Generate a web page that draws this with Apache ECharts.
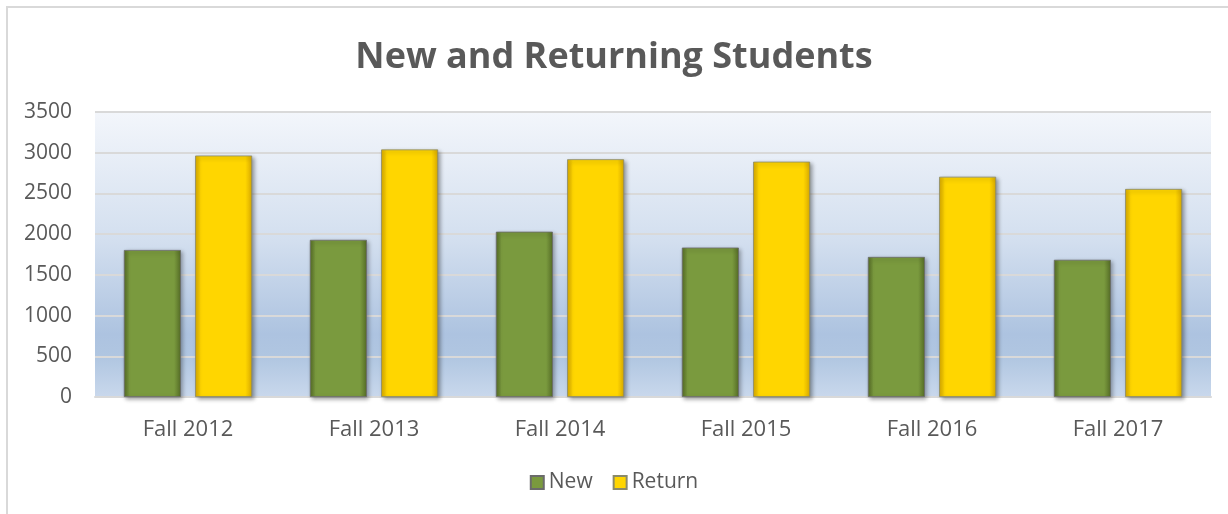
<!DOCTYPE html>
<html>
<head>
<meta charset="utf-8">
<title>New and Returning Students</title>
<script src="https://cdn.jsdelivr.net/npm/echarts@6/dist/echarts.min.js"></script>
<style>
    html, body {
        margin: 0;
        padding: 0;
        background: #ffffff;
    }
    #students-chart {
        width: 1228px;
        height: 514px;
    }
</style>
</head>
<body>
<div id="students-chart"></div>
<script>
// data
const categories = ['Fall 2012', 'Fall 2013', 'Fall 2014', 'Fall 2015', 'Fall 2016', 'Fall 2017'];
const newStudents = [1805, 1930, 2030, 1835, 1720, 1685];
const returnStudents = [2965, 3040, 2920, 2890, 2705, 2555];
const yTicks = { min: 0, max: 3500, interval: 500 };

const textColor = '#595959';
const fontFamily = '"Open Sans", "Noto Sans", sans-serif';

// bar fills: darker edges left/right, like the bevelled office bars
function barFill(edge, main) {
    return {
        type: 'linear', x: 0, y: 0, x2: 1, y2: 0,
        colorStops: [
            { offset: 0, color: edge },
            { offset: 0.1, color: main },
            { offset: 0.88, color: main },
            { offset: 1, color: edge }
        ]
    };
}

const greenStyle = {
    color: barFill('#566d27', '#7a9a3e'),
    borderColor: '#6b6b6b',
    borderWidth: 0.8,
    shadowBlur: 4,
    shadowColor: 'rgba(0, 0, 0, 0.35)',
    shadowOffsetX: 2,
    shadowOffsetY: 2
};
const yellowStyle = {
    color: barFill('#d8a900', '#ffd600'),
    borderColor: '#8a8a6a',
    borderWidth: 0.8,
    shadowBlur: 4,
    shadowColor: 'rgba(0, 0, 0, 0.35)',
    shadowOffsetX: 2,
    shadowOffsetY: 2
};

const chart = echarts.init(document.getElementById('students-chart'));

const option = {
    animation: false,
    backgroundColor: '#ffffff',
    title: {
        text: 'New and Returning Students',
        left: 'center',
        top: 35,
        textStyle: {
            fontFamily,
            fontSize: 36,
            fontWeight: 'bold',
            color: textColor
        }
    },
    graphic: [
        {
            // outer chart frame (runs off the right and bottom edges)
            type: 'rect',
            shape: { x: 7, y: 7, width: 1400, height: 700 },
            style: { fill: 'none', stroke: '#d9d9d9', lineWidth: 2 },
            silent: true
        }
    ],
    legend: {
        data: ['New', 'Return'],
        bottom: 16,
        left: 'center',
        icon: 'rect',
        itemWidth: 13,
        itemHeight: 13,
        itemGap: 20,
        textStyle: {
            fontFamily,
            fontSize: 21,
            color: textColor
        }
    },
    grid: {
        left: 95,
        right: 17,
        top: 112,
        bottom: 117,
        show: true,
        borderWidth: 0,
        backgroundColor: {
            type: 'linear', x: 0, y: 0, x2: 0, y2: 1,
            colorStops: [
                { offset: 0, color: '#f3f6fb' },
                { offset: 0.45, color: '#d3dfef' },
                { offset: 0.78, color: '#adc3e0' },
                { offset: 0.86, color: '#b0c6e1' },
                { offset: 1, color: '#c9d8ec' }
            ]
        }
    },
    xAxis: {
        type: 'category',
        data: categories,
        axisLine: { lineStyle: { color: '#d9d9d9', width: 2 } },
        axisTick: { show: false },
        axisLabel: {
            fontFamily,
            fontSize: 22,
            color: textColor,
            margin: 22
        }
    },
    yAxis: {
        type: 'value',
        min: yTicks.min,
        max: yTicks.max,
        interval: yTicks.interval,
        axisLine: { show: false },
        axisTick: { show: false },
        axisLabel: {
            fontFamily,
            fontSize: 21,
            color: textColor,
            margin: 23,
            formatter: (v) => String(v)
        },
        splitLine: { lineStyle: { color: '#d9d9d9', width: 2 } }
    },
    series: [
        {
            name: 'New',
            type: 'bar',
            data: newStudents,
            barWidth: 57,
            barGap: '25%',
            itemStyle: greenStyle
        },
        {
            name: 'Return',
            type: 'bar',
            data: returnStudents,
            barWidth: 57,
            itemStyle: yellowStyle
        }
    ]
};

chart.setOption(option);
</script>
</body>
</html>
